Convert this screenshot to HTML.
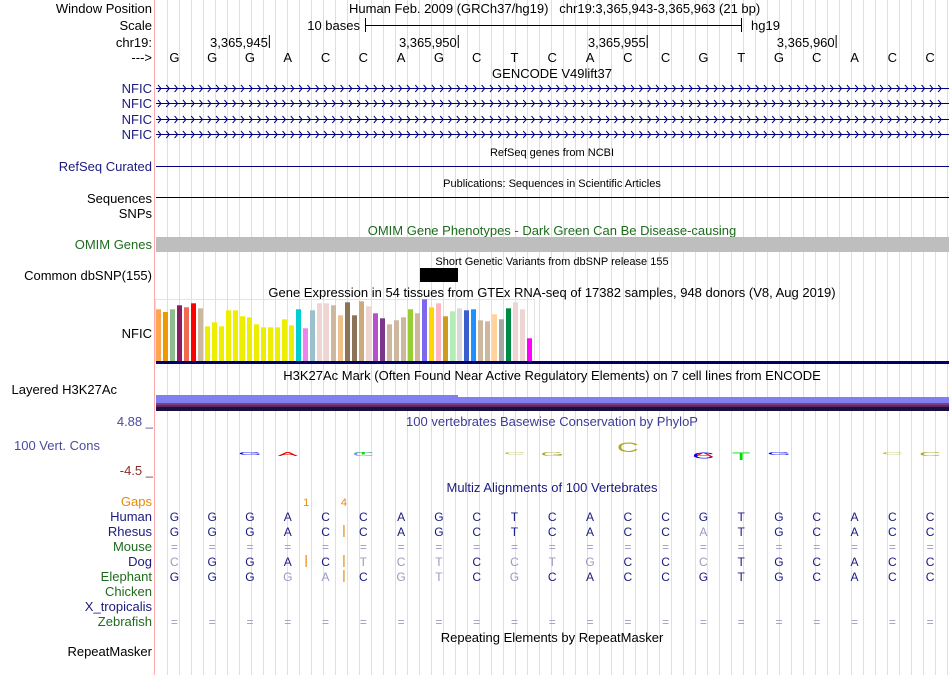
<!DOCTYPE html>
<html><head><meta charset="utf-8">
<style>
html,body{margin:0;padding:0;background:#fff;}
svg{display:block;font-family:"Liberation Sans",Arial,sans-serif;}
.lbl{font-size:13px;text-anchor:end;}
.ttl{font-size:13px;text-anchor:middle;}
.sm{font-size:11px;text-anchor:middle;}
.base{font-size:13px;text-anchor:middle;}
</style></head>
<body>
<svg id="chart" width="950" height="675" viewBox="0 0 950 675">
<g id="grid"></g>
<line x1="154.5" y1="0" x2="154.5" y2="675" stroke="#ffaaaa" stroke-width="1"/>

<text class="lbl" x="152" y="13">Window Position</text>
<text x="349" y="13" font-size="13">Human Feb. 2009 (GRCh37/hg19)&#160;&#160;&#160;chr19:3,365,943-3,365,963 (21 bp)</text>
<text class="lbl" x="152" y="30">Scale</text>
<text class="lbl" x="360" y="30">10 bases</text>
<g stroke="#000">
<line x1="365" y1="25.5" x2="741" y2="25.5"/><line x1="365.5" y1="18" x2="365.5" y2="32"/><line x1="741.5" y1="18" x2="741.5" y2="32"/></g>
<text x="751" y="30" font-size="13">hg19</text>
<text class="lbl" x="152" y="47">chr19:</text>
<g id="ruler"></g>
<text class="lbl" x="152" y="62">---&gt;</text>
<g id="seq"></g>

<text class="ttl" x="552" y="78">GENCODE V49lift37</text>
<g id="genes"></g>

<text class="lbl" x="152" y="171" fill="#1a1a80">RefSeq Curated</text>
<text class="sm" x="552" y="156">RefSeq genes from NCBI</text>
<line x1="156" y1="166.5" x2="949" y2="166.5" stroke="#000080"/>
<text class="sm" x="552" y="187">Publications: Sequences in Scientific Articles</text>
<text class="lbl" x="152" y="203">Sequences</text>
<line x1="156" y1="197.5" x2="949" y2="197.5" stroke="#000"/>
<text class="lbl" x="152" y="218">SNPs</text>
<text class="ttl" x="552" y="235" fill="#1e6b1e">OMIM Gene Phenotypes - Dark Green Can Be Disease-causing</text>
<text class="lbl" x="152" y="249" fill="#1e6b1e">OMIM Genes</text>
<rect x="156" y="237" width="793" height="15" fill="#bebebe"/>
<text class="sm" x="552" y="265">Short Genetic Variants from dbSNP release 155</text>
<text class="lbl" x="152" y="280">Common dbSNP(155)</text>
<rect x="420" y="268" width="38" height="14" fill="#000"/>
<text class="ttl" x="552" y="297">Gene Expression in 54 tissues from GTEx RNA-seq of 17382 samples, 948 donors (V8, Aug 2019)</text>
<text class="lbl" x="152" y="338">NFIC</text>
<rect x="155.5" y="299.5" width="379" height="62" fill="none" stroke="#e4e4e4"/>
<g id="gtex"></g>
<rect x="156" y="361" width="793" height="3" fill="#000066"/>

<text class="ttl" x="552" y="380">H3K27Ac Mark (Often Found Near Active Regulatory Elements) on 7 cell lines from ENCODE</text>
<text class="lbl" x="117" y="394">Layered H3K27Ac</text>
<g>
<rect x="156" y="395" width="302" height="8" fill="#8080f0"/>
<rect x="458" y="397" width="491" height="6" fill="#8080f0"/>
<rect x="156" y="403" width="793" height="2" fill="#8a3a78"/>
<rect x="156" y="405" width="793" height="2" fill="#5a2a6a"/>
<rect x="156" y="407" width="793" height="4" fill="#1a1040"/>
</g>

<text x="153" y="426" font-size="13" fill="#4b4b9b" text-anchor="end">4.88 _</text>
<text class="ttl" x="552" y="426" fill="#3c3c96">100 vertebrates Basewise Conservation by PhyloP</text>
<text x="14" y="450" font-size="13" fill="#4b4b9b">100 Vert. Cons</text>
<text x="153" y="475" font-size="13" fill="#8b2c2c" text-anchor="end">-4.5 _</text>
<g id="logo"></g>

<text class="ttl" x="552" y="492" fill="#1a1a80">Multiz Alignments of 100 Vertebrates</text>
<g id="align"></g>
<text class="ttl" x="552" y="642">Repeating Elements by RepeatMasker</text>
<text class="lbl" x="152" y="656">RepeatMasker</text>
</svg>
<script>
const NS='http://www.w3.org/2000/svg';
const refSeq=['G','G','G','A','C','C','A','G','C','T','C','A','C','C','G','T','G','C','A','C','C'];
const startPos=3365943;
const rulerTicks=[3365945,3365950,3365955,3365960];
const species=['Gaps','Human','Rhesus','Mouse','Dog','Elephant','Chicken','X_tropicalis','Zebrafish'];
const speciesColors=['#e8890c','#1a1a80','#1a1a80','#1e6b1e','#1a1a80','#1e6b1e','#1e6b1e','#1a1a80','#1e6b1e'];
const rhesusSeq='GGGACCAGCTCACCATGCACC';
const rhesusLight=[14];
const dogSeq='CGGACTCTCCTGCCCTGCACC';
const dogLight=[0,5,6,7,9,10,11,14];
const elephantSeq='GGGGACGTCGCACCGTGCACC';
const elephantLight=[3,4,6,7,9];
const gapLabels=[{pos:4,text:'1'},{pos:5,text:'4'}];
const gapBarsRhesus=[5];
const gapBarsDog=[4,5];
const gapBarsElephant=[5];
const gtexValues=[51.7,49,51.7,55.7,53.7,57.7,52.7,34.7,38.7,34.7,50.7,50.7,44.7,43.7,36.7,33.7,33.7,33.7,41.7,35.7,51.7,32.7,50.7,57.7,57.7,55.7,45.7,58.7,45.7,59.7,54.7,47.7,42.7,36.7,40.7,43.7,51.7,47.7,61.7,53.7,57.7,44.7,49.7,52.7,50.7,51.7,40.7,39.7,46.7,41.7,52.7,58.7,51.7,22.7];
const gtexColors=['#FFA54F','#EE9A00','#8FBC8F','#8B1C62','#EE6A50','#FF0000','#CDB79E','#EEEE00','#EEEE00','#EEEE00','#EEEE00','#EEEE00','#EEEE00','#EEEE00','#EEEE00','#EEEE00','#EEEE00','#EEEE00','#EEEE00','#EEEE00','#00CED1','#EE82EE','#9AC0CD','#EED5D2','#EED5D2','#CDB79E','#F0C08A','#8B7355','#8B7355','#CDAA7D','#EED5D2','#B452CD','#7A378B','#CDB79E','#CDB79E','#CDB79E','#9ACD32','#CDB79E','#7B68EE','#FFD700','#FFB6C1','#CD9B1D','#B4EEB4','#D9D9D9','#3A5FCD','#1E90FF','#CDB79E','#CDB79E','#FFD39B','#A6A6A6','#008B45','#EED5D2','#EED5D2','#FF00FF'];
const logoIdx=[2,3,5,5,9,10,12,14,14,15,16,19,20];
const logoLetter=['G','A','C','T','C','G','C','A','C','T','G','C','C'];
const logoScore=[-0.4,-0.5,-0.5,-0.3,-0.3,-0.5,1.3,-0.6,-0.8,-1.0,-0.4,-0.3,-0.5];
const logoColor=['#0000ee','#ee0000','#8888ee','#00dd00','#bbbb44','#aaaa33','#aaaa22','#ee0000','#0000ee','#00dd00','#0000ee','#bbbb44','#aaaa22'];

const X0=155.5, BW=793.5/21;
const xBase=i=>X0+BW*(i+0.5);
const xEdge=i=>X0+BW*i;
function mk(tag,attrs,parent,txt){const e=document.createElementNS(NS,tag);for(const k in attrs)e.setAttribute(k,attrs[k]);if(txt!==undefined)e.textContent=txt;parent.appendChild(e);return e;}

const grid=document.getElementById('grid');
for(let x=167.5;x<950;x+=12){const l=mk('line',{x1:x,y1:0,x2:x,y2:675,stroke:'#dcdcf4','stroke-width':1},grid);

}

const ruler=document.getElementById('ruler');
rulerTicks.forEach(p=>{const x=xEdge(p-startPos+1);
const t=mk('text',{x:x-1,y:47,'font-size':13,'text-anchor':'end'},ruler,p.toLocaleString('en-US'));


const l=mk('line',{x1:x+0.5,y1:35,x2:x+0.5,y2:48,stroke:'#000'},ruler);

});

const seq=document.getElementById('seq');
refSeq.forEach((b,i)=>{const t=mk('text',{x:xBase(i),y:62,class:'base'},seq,b);

});

const genes=document.getElementById('genes');
[88,103,119,134].forEach(y=>{
const lab=mk('text',{x:152,y:y+5,class:'lbl',fill:'#1a1a80'},genes,'NFIC');


let d='';for(let x=158;x<946;x+=8.3){d+=`M${x.toFixed(1)},${y-3} L${(x+3).toFixed(1)},${y+0.5} L${x.toFixed(1)},${y+4} `;}
const p=mk('path',{d:d,fill:'none',stroke:'#000080','stroke-width':1},genes);


const l=mk('line',{x1:156,y1:y+0.5,x2:949,y2:y+0.5,stroke:'#000080'},genes);

});

const gtex=document.getElementById('gtex');
const gBase=361, gx=i=>156+i*7;
gtexValues.forEach((v,i)=>{const r=mk('rect',{x:gx(i),y:gBase-v,width:5,height:v,fill:gtexColors[i]},gtex);

});

const logo=document.getElementById('logo');
const mid=452, unit=8;
logoIdx.forEach((bi,k)=>{const s=logoScore[k];const h=Math.max(2,Math.abs(s)*unit);
const sy=(h/14).toFixed(3);
const tr=s>0?`translate(${xBase(bi)},${mid}) scale(1.6,${sy})`:`translate(${xBase(bi)},${mid}) scale(1.6,${sy}) translate(0,14)`;
const t=mk('text',{x:0,y:0,'font-size':19,'text-anchor':'middle',fill:logoColor[k],transform:tr},logo,logoLetter[k]);

});

const align=document.getElementById('align');
species.forEach((sp,r)=>{const y=506+r*15;
const t=mk('text',{x:152,y:y,class:'lbl',fill:speciesColors[r]},align,sp);

});
function row(seqStr,light,r){const y=506+r*15;
for(let i=0;i<21;i++){const lt=light.includes(i);
const t=mk('text',{x:xBase(i),y:y,'font-size':12,'text-anchor':'middle',fill:lt?'#9a9ac4':'#1a1a80'},align,seqStr[i]);

}}
row(refSeq.join(''),[],1);
row(rhesusSeq,rhesusLight,2);
row('='.repeat(21),Array.from({length:21},(_,i)=>i),3);
row(dogSeq,dogLight,4);
row(elephantSeq,elephantLight,5);
row('='.repeat(21),Array.from({length:21},(_,i)=>i),8);
gapLabels.forEach(g=>{const t=mk('text',{x:xEdge(g.pos)-0.5,y:506,'font-size':11,'text-anchor':'middle',fill:'#e8890c'},align,g.text);

});
[[gapBarsRhesus,2],[gapBarsDog,4],[gapBarsElephant,5]].forEach(([arr,r])=>arr.forEach(p=>{const y=506+r*15;
const l=mk('line',{x1:xEdge(p)-0.5,y1:y-11,x2:xEdge(p)-0.5,y2:y+1,stroke:'#e8890c','stroke-width':1.2},align);

}));
</script>
</body></html>
